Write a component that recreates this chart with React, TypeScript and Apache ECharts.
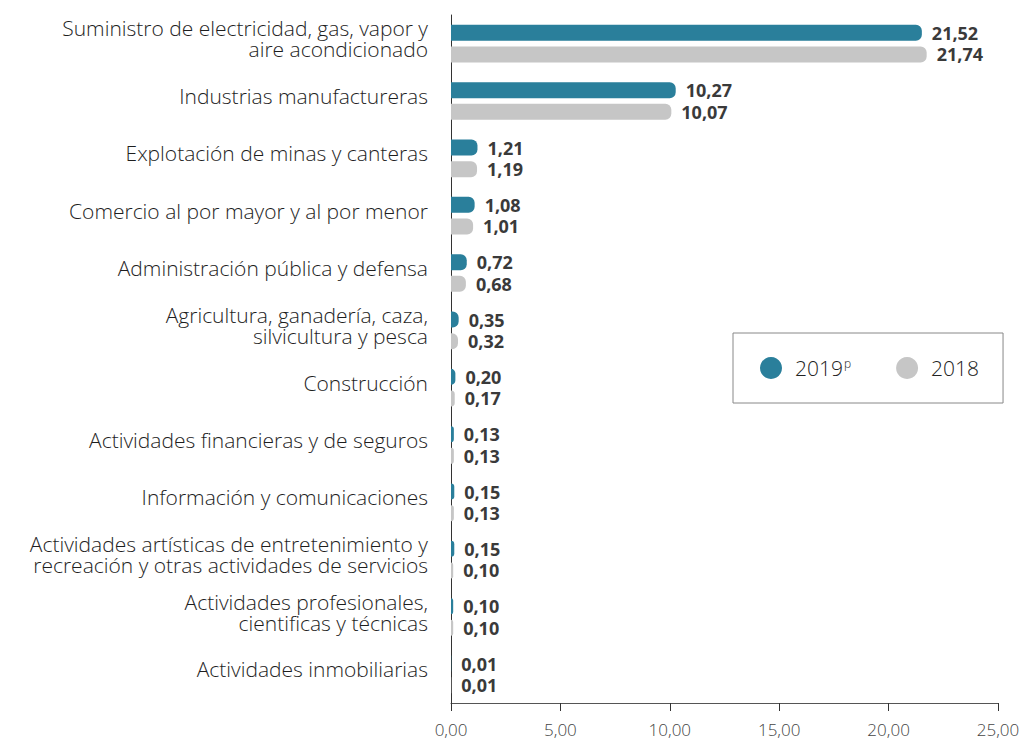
import React, { useEffect, useRef } from "react";
import * as echarts from "echarts";

const categories = [
  "Suministro de electricidad, gas, vapor y\naire acondicionado",
  "Industrias manufactureras",
  "Explotación de minas y canteras",
  "Comercio al por mayor y al por menor",
  "Administración pública y defensa",
  "Agricultura, ganadería, caza,\nsilvicultura y pesca",
  "Construcción",
  "Actividades financieras y de seguros",
  "Información y comunicaciones",
  "Actividades artísticas de entretenimiento y\nrecreación y otras actividades de servicios",
  "Actividades profesionales,\ncientificas y técnicas",
  "Actividades inmobiliarias",
];

const values2019 = [21.52, 10.27, 1.21, 1.08, 0.72, 0.35, 0.2, 0.13, 0.15, 0.15, 0.1, 0.01];
const values2018 = [21.74, 10.07, 1.19, 1.01, 0.68, 0.32, 0.17, 0.13, 0.13, 0.1, 0.1, 0.01];

const fmt = (v: number) => v.toFixed(2).replace(".", ",");

export default function App() {
  const ref = useRef<HTMLDivElement>(null);
  useEffect(() => {
    document.body.style.margin = "0";
    const chart = echarts.init(ref.current!, null, { renderer: "svg" });
    const font = "'Open Sans'";
    const label = {
      show: true,
      position: "right" as const,
      distance: 10,
      formatter: (p: any) => fmt(p.value),
      fontFamily: font,
      fontWeight: "bold" as const,
      fontSize: 18,
      color: "#3a3a3a",
    };
    chart.setOption({
      animation: false,
      backgroundColor: "#ffffff",
      grid: { left: 451, right: 28, top: 15, bottom: 38 },
      legend: {
        orient: "horizontal",
        left: 733,
        top: 333,
        padding: [24, 24, 24, 27],
        borderColor: "#888",
        borderWidth: 1,
        itemWidth: 22,
        itemHeight: 22,
        itemGap: 45,
        icon: "circle",
        data: ["2019p", "2018"],
        formatter: (name: string) => (name === "2019p" ? "{a|2019}{b|p}" : "{a|2018}"),
        textStyle: {
          rich: {
            a: { fontFamily: font, fontSize: 21, fontWeight: 300, color: "#222", padding: [0, 0, 0, 8] },
            b: { fontFamily: font, fontSize: 12, fontWeight: 300, color: "#222", verticalAlign: "top", padding: [0, 0, 10, 1] },
          },
        },
      },
      xAxis: {
        type: "value",
        min: 0,
        max: 25,
        interval: 5,
        axisLine: { show: true, lineStyle: { color: "#555", width: 1 } },
        axisTick: { show: true, length: 8, lineStyle: { color: "#333" } },
        splitLine: { show: false },
        axisLabel: {
          formatter: (v: number) => fmt(v),
          fontFamily: font,
          fontSize: 17,
          fontWeight: 300,
          color: "#444",
          margin: 18,
        },
      },
      yAxis: {
        type: "category",
        inverse: true,
        data: categories,
        axisLine: { show: true, lineStyle: { color: "#333", width: 1 } },
        axisTick: { show: false },
        axisLabel: {
          margin: 23,
          align: "right",
          formatter: (v: string) =>
            v.split("\n").map((l) => `{a|${l}}`).join("\n") + "\n{s| }",
          rich: {
            a: { fontFamily: font, fontSize: 21, fontWeight: 300, color: "#1e1e1e", lineHeight: 21, align: "right" },
            s: { fontSize: 1, lineHeight: 10 },
          },
        },
      },
      series: [
        {
          name: "2019p",
          type: "bar",
          data: values2019,
          barWidth: 16,
          barGap: "35%",
          itemStyle: { color: "#2a7f9b", borderRadius: [0, 6, 6, 0] },
          label,
        },
        {
          name: "2018",
          type: "bar",
          data: values2018,
          barWidth: 16,
          itemStyle: { color: "#c6c6c6", borderRadius: [0, 6, 6, 0] },
          label,
        },
      ],
    });
    return () => chart.dispose();
  }, []);
  return <div ref={ref} style={{ width: 1026, height: 741 }} />;
}
